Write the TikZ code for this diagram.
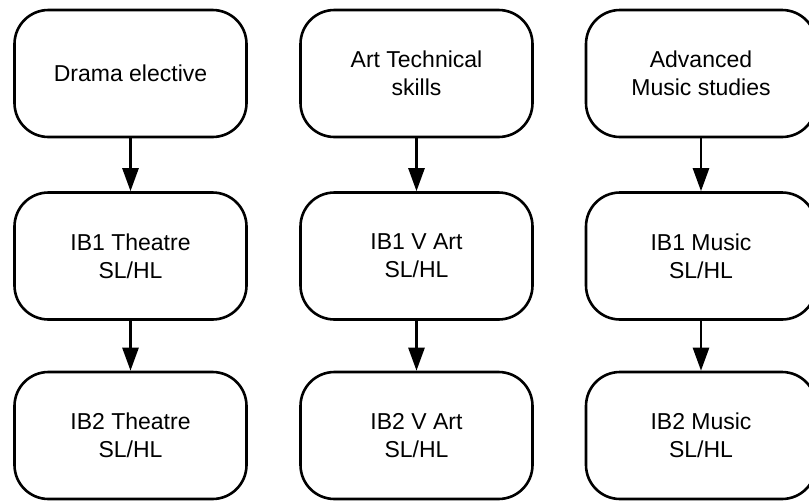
\documentclass[tikz,border=0pt]{standalone}
\usepackage{fontspec}
\setmainfont{Liberation Sans}
\usetikzlibrary{arrows.meta}
\begin{document}
\begin{tikzpicture}[x=1pt,y=-1pt,
  box/.style={draw, line width=2.6pt, rounded corners=34pt, minimum width=232pt, minimum height=127pt,
    align=center, font=\fontsize{23}{28}\selectfont, inner sep=0pt},
  arr/.style={line width=2.6pt, -{Triangle[length=23pt,width=16pt]}}]
\useasboundingbox (0,0) rectangle (809,501);
% column 1
\node[box] (d0) at (130.5,73.5) {Drama elective};
\node[box] (d1) at (130.5,256) {IB1 Theatre\\SL/HL};
\node[box] (d2) at (130.5,435.5) {IB2 Theatre\\SL/HL};
% column 2
\node[box] (a0) at (416.5,73.5) {Art Technical\\skills};
\node[box] (a1) at (416.5,256) {IB1 V Art\\SL/HL};
\node[box] (a2) at (416.5,435.5) {IB2 V Art\\SL/HL};
% column 3
\node[box, minimum width=230pt] (m0) at (701,73.5) {Advanced\\Music studies};
\node[box, minimum width=230pt] (m1) at (701,256) {IB1 Music\\SL/HL};
\node[box, minimum width=230pt] (m2) at (701,435.5) {IB2 Music\\SL/HL};
% arrows
\draw[arr] (d0.south) -- (d1.north);
\draw[arr] (d1.south) -- (d2.north);
\draw[arr] (a0.south) -- (a1.north);
\draw[arr] (a1.south) -- (a2.north);
\draw[arr] (m0.south) -- (m1.north);
\draw[arr] (m1.south) -- (m2.north);
\end{tikzpicture}
\end{document}
